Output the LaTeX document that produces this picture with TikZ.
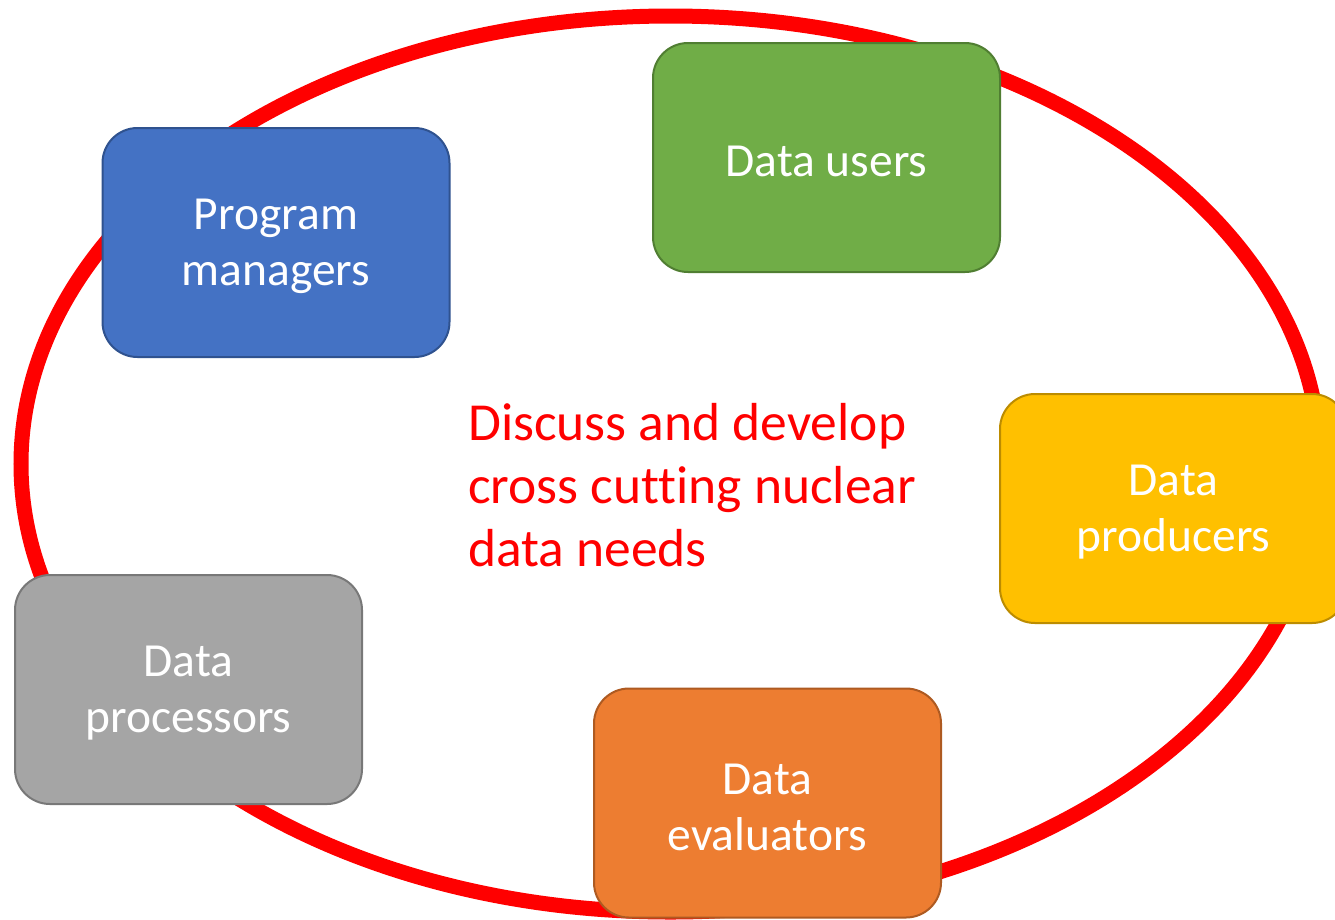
\documentclass[tikz,border=0pt]{standalone}
\usepackage{fontspec}
\usetikzlibrary{shapes.geometric}
\setmainfont{Carlito}[Ligatures={NoCommon}]
\definecolor{pmfill}{HTML}{4472C4}\definecolor{pmdraw}{HTML}{2F528F}
\definecolor{dufill}{HTML}{70AD47}\definecolor{dudraw}{HTML}{507E32}
\definecolor{dpfill}{HTML}{FFC000}\definecolor{dpdraw}{HTML}{BC8C00}
\definecolor{dcfill}{HTML}{A5A5A5}\definecolor{dcdraw}{HTML}{787878}
\definecolor{defill}{HTML}{ED7D31}\definecolor{dedraw}{HTML}{AE5A21}
\definecolor{ringred}{HTML}{FF0000}
\tikzset{
  rolebox/.style={rectangle, rounded corners=35pt, minimum width=347pt, minimum height=229pt,
    line width=2pt, inner sep=0pt},
  boxtext/.style={text=white, align=center, inner sep=0pt, yshift=-4pt,
    font=\fontsize{47.5}{56}\selectfont},
  ring/.style={draw=ringred, line width=15pt},
  centretext/.style={text=ringred, align=left, inner sep=0pt, anchor=north west,
    font=\fontsize{53.5}{63}\selectfont}
}
\begin{document}
\begin{tikzpicture}[x=1pt,y=-1pt]
\useasboundingbox (0,0) rectangle (1335,919);
\clip (0,0) rectangle (1335,919);
\fill[white] (0,0) rectangle (1335,919);
\node[ring, ellipse, minimum width=1299pt, minimum height=896pt, inner sep=0pt] (ring) at (670.5,464) {};
\node[rolebox, fill=pmfill, draw=pmdraw, label={[boxtext]center:Program\\managers}] (pm) at (276,242.5) {};
\node[rolebox, fill=dufill, draw=dudraw, label={[boxtext]center:Data users}] (du) at (826.5,157.5) {};
\node[rolebox, fill=dpfill, draw=dpdraw, label={[boxtext]center:Data\\producers}] (dp) at (1173.5,508.5) {};
\node[rolebox, fill=dcfill, draw=dcdraw, label={[boxtext]center:Data\\processors}] (dc) at (188.5,689.5) {};
\node[rolebox, fill=defill, draw=dedraw, label={[boxtext]center:Data\\evaluators}] (de) at (767.5,803) {};
\node[centretext] (goal) at (468,403) {Discuss and develop\\cross cutting nuclear\\data needs};
\end{tikzpicture}
\end{document}
